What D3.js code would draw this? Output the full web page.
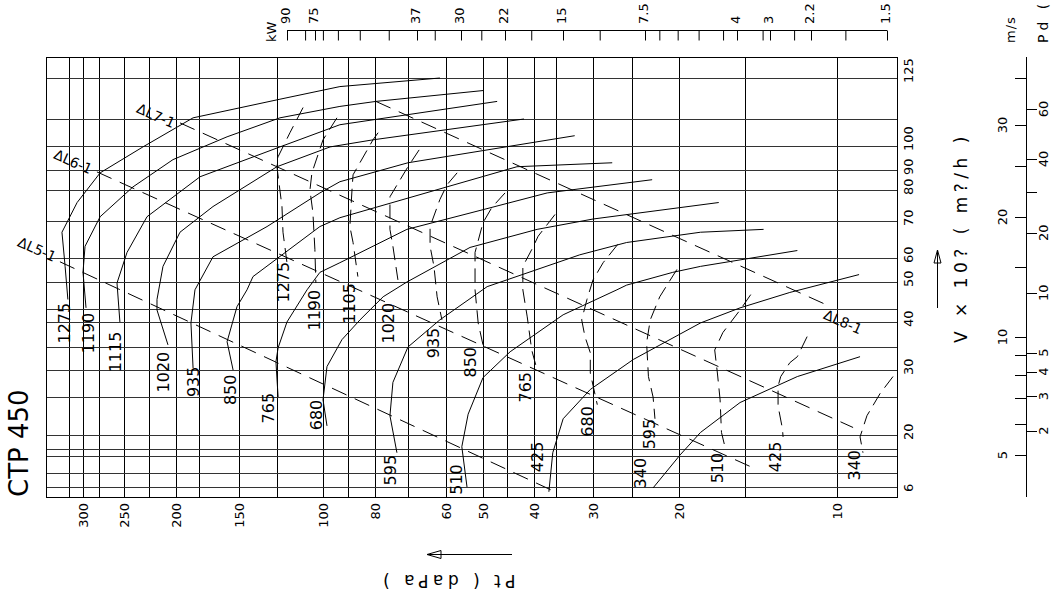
<!DOCTYPE html>
<html>
<head>
<meta charset="utf-8">
<script src="https://cdn.jsdelivr.net/npm/d3@7/dist/d3.min.js"></script>
<style>
  body { margin: 0; background: #fff; }
  text { font-family: "DejaVu Sans", sans-serif; fill: #000; }
</style>
</head>
<body>
<div id="chart"></div>
<script>
// axis values
var pressureTicks = [300, 250, 200, 150, 100, 80, 60, 50, 40, 30, 20, 10];
var pressureGrid = [320, 300, 280, 250, 225, 200, 180, 150, 125, 100, 90, 80, 70, 60, 50, 45, 40, 36, 30, 25, 20, 15, 10];
var flowTicks = [125, 100, 90, 80, 70, 60, 50, 40, 30, 20, 6];
var flowGrid = [125, 110, 100, 90, 80, 70, 60, 50, 45, 40, 35, 30, 25, 20, 16, 14, 10, 6];
var kwTicks = [90, 75, 37, 30, 22, 15, 7.5, 4, 3, 2.2, 1.5];
var kwMinor = [80, 71, 64, 55, 45, 34, 26, 18.5, 11, 6.8, 6, 5.2, 4.4, 3.2, 2.5, 1.85];
var speedTicks = [30, 20, 10, 5];
var speedMinor = [35, 25, 15, 9, 8, 7, 6];
var pdTicks = [60, 40, 20, 10, 5, 4, 3, 2];
var pdMinor = [30];

var rpms = [1275, 1190, 1115, 1020, 935, 850, 765, 680, 595, 510, 425, 340];
var powerRpms = [1275, 1190, 1105, 1020, 935, 850, 765, 680, 595, 510, 425, 340];

// fan curves, points are [Pt daPa, V x1000 m3/h]
var fan1275 = [[61.5,125],[93,121.7],[123.1,117],[185,110.4],[230.5,99.6],[278,88.5],[308,75.8],[329.6,66.8],[325,56.3],[321,46.7]];
var fan1190 = [[50,120.2],[79.7,116.2],[93,114.4],[123.1,110.4],[158.4,103.3],[202.6,94.2],[240.5,81.5],[278,71.3],[297.3,63],[300,53.8],[296,45.2]];
var fan1115 = [[47,116.2],[93,107.8],[123.1,99.6],[179.2,86.5],[226.5,71.3],[246.8,61.4],[257.9,49.8],[254.6,40]];
var fan1020 = [[41.8,110],[80.7,102.2],[97,99.6],[124.9,91.3],[168.9,74.5],[196.4,66.8],[211.5,56.3],[217,46.7],[217,44.6],[207,35.4]];
var fan935 = [[32.8,103.7],[70,92.9],[93,84],[101.5,79],[131,68.4],[168.9,60.3],[183.4,48.5],[186.8,39.8],[185,30.4]];
var fan850 = [[27.4,92.9],[43.1,91.3],[59.7,81.5],[93,71],[101.5,68.4],[140.2,52.1],[144.3,48.5],[151.4,45.4],[158.4,36],[154.1,30]];
var fan765 = [[22.7,85],[37.5,79],[50,73.5],[70.3,67.6],[93,57.9],[101.5,53.8],[108,48.5],[119,40],[124.2,34.8],[125.5,31.7],[124.2,25]];
var fan680 = [[16.8,75.8],[30,70.6],[39.4,67.6],[53.3,62.7],[70.3,50],[77.4,47.2],[85.3,40.8],[92.2,36.4],[98.3,30.7],[100,24.6],[98.3,21.1]];
var fan595 = [[13.8,67.6],[18.2,66.8],[25.6,64],[32,60.8],[49.1,49.1],[61.5,40.8],[70,35],[74.4,27.6],[75.3,22.4],[73.2,14.9]];
var fan510 = [[11.9,61.9],[18.2,56.3],[20.6,53.8],[25.6,49.4],[26.8,48.5],[34.7,42.7],[44.4,33.9],[50,28.5],[53.8,22.6],[55.5,16.6],[54.1,6]];
var fan425 = [[9.04,52.9],[12.3,48],[15.3,45.2],[18.2,39.8],[24.8,32.2],[30.4,26.3],[34.7,22],[36.5,14.9],[37.2,5.5]];
var fan340 = [[9,32.8],[11.9,28.7],[15.3,24.2],[18.2,20.3],[19.9,14.3],[22.6,5.9]];
var fanLabelAt = [[325.9,46.1],[292.7,43.5],[260.2,38],[211,33.9],[184.6,30.7],[156.3,29.1],[130.1,25.7],[103.2,24.6],[75.3,14.3],[57,11.9],[39.3,18],[24,13.5]];

// absorbed power curves (dashed)
var power1275 = [[110.1,114],[117.3,104.8],[124.2,95.4],[124.9,91.3],[121.9,74.5],[121.3,66.8],[119,57.9]];
var power1190 = [[94.2,110.4],[100,102.2],[105.5,88.5],[106.5,80],[105,72.6],[104,62.2],[103.5,49.8]];
var power1105 = [[79,104.8],[80.7,102.2],[87.9,87.5],[88.3,80],[89.1,68.4],[87.9,64],[86.1,52.1]];
var power1020 = [[66.9,98.3],[70,91.3],[75.3,77.7],[75.3,67.6],[74.4,63],[72.9,50.8]];
var power935 = [[56.8,88.5],[59.7,82.5],[61.5,76.8],[64,68.4],[64,63],[63,56.3],[62.2,47.2],[61,40.8]];
var power850 = [[45.4,79],[48.1,74.2],[50,69.5],[52,61.4],[52,48.5],[51.2,39.8],[50,35.4]];
var power765 = [[36.1,72],[39.2,65.7],[40.2,62.7],[42,56.3],[42,48.5],[41.2,41.9],[40.4,34.3],[39.4,30]];
var power680 = [[26.7,63.5],[28.6,57.9],[30,50.8],[30.9,46.7],[31.7,40.8],[31.2,37],[30.4,33.7],[30.4,29.4],[29.4,23.9]];
var power595 = [[20.2,55],[21.9,47.2],[22.9,40.8],[23.3,35.8],[23.1,28.7],[22.6,25],[22.4,22]];
var power510 = [[14.6,47.6],[15.3,44.6],[16.5,37.8],[17.1,34.3],[16.9,29.4],[16.7,24.6],[16.6,20.3],[16.35,16.6]];
var power425 = [[11.4,37],[11.9,32.8],[12.3,31.5],[12.8,28.7],[12.95,26.9],[12.95,23.7],[12.7,20.7],[12.67,19.4]];
var power340 = [[7.74,28.7],[8.21,25.6],[8.72,22.4],[9,19.4],[8.88,14.9]];
var powerLabelAt = [[121,58.3],[104,48.5],[89.4,49.8],[75.7,46.1],[63.1,38.8],[53.3,35],[41.6,29.6],[30.8,23.7],[23,22],[16.9,14.9],[13.1,18],[9.23,15.7]];

// system lines (dashed diagonals)
var systemNames = ['ΔL7-1', 'ΔL6-1', 'ΔL5-1', 'ΔL8-1'];
var systemFrom = [[196.4,108.5],[282,89],[332.6,58.3],[79.7,116.2]];
var systemTo = [[9.29,20.9],[14.2,10.7],[36.1,5.5],[10.45,45.7]];
var systemLabelAt = [[218,111.1],[313.7,93.3],[368.6,62.2],[9.73,40]];

var fans = [fan1275, fan1190, fan1115, fan1020, fan935, fan850, fan765, fan680, fan595, fan510, fan425, fan340];
var powers = [power1275, power1190, power1105, power1020, power935, power850, power765, power680, power595, power510, power425, power340];

// the printed sheet has hand ruled, non uniform axes, so the scales are piecewise log
var xScale = d3.scaleLog()
    .domain([354, 300, 250, 200, 150, 100, 80, 60, 50, 40, 30, 20, 10, 7.6])
    .range([46, 83, 124, 176, 239, 323, 375, 446, 483, 534, 593, 679, 837, 897]);

var yScale = d3.scaleLog()
    .domain([140, 125, 110, 100, 90, 80, 70, 60, 50, 45, 40, 35, 30, 25, 20, 16, 14, 10, 6, 5])
    .range([57, 78, 119, 146, 170, 190, 221, 258, 282, 309, 322, 347, 370, 397, 435, 449, 456, 473, 487, 497]);

var kwScale = d3.scaleLog()
    .domain(kwTicks)
    .range([287, 315, 417, 461, 505, 563, 645, 737, 770, 811, 887]);

var speedScale = d3.scaleLog()
    .domain([35, 30, 20, 10, 5])
    .range([78, 125, 217, 337, 455]);

// dynamic pressure daPa -> air speed m/s
function pdToSpeed(pd){
    return Math.sqrt(pd / 0.06);
}

function px(v){
    return Math.round(v) + 0.5;
}

var left = xScale.range()[0], right = xScale.range()[xScale.range().length - 1];
var top_ = yScale.range()[0], bottom = yScale.range()[yScale.range().length - 1];

var svg = d3.select('#chart')
    .append('svg')
    .attr('width', 1064)
    .attr('height', 600);

// grid
var grid = svg.append('g').attr('stroke', '#000').attr('stroke-width', 1).attr('shape-rendering', 'crispEdges');

grid.selectAll('.vgrid')
    .data(pressureGrid)
    .enter().append('line')
    .attr('class', 'vgrid')
    .attr('x1', function(d){ return px(xScale(d)) })
    .attr('x2', function(d){ return px(xScale(d)) })
    .attr('y1', top_)
    .attr('y2', bottom);

grid.selectAll('.hgrid')
    .data(flowGrid)
    .enter().append('line')
    .attr('class', 'hgrid')
    .attr('stroke', '#333')
    .attr('x1', left)
    .attr('x2', right)
    .attr('y1', function(d){ return px(yScale(d)) })
    .attr('y2', function(d){ return px(yScale(d)) });

grid.append('rect')
    .attr('x', px(left)).attr('y', px(top_))
    .attr('width', Math.round(right - left)).attr('height', Math.round(bottom - top_))
    .attr('fill', 'none');

// pressure labels under the grid
var xAxis = d3.axisBottom(xScale)
    .tickValues(pressureTicks)
    .tickSize(0)
    .tickFormat(d3.format('d'));

svg.append('g')
    .attr('transform', 'translate(0,' + (bottom + 6) + ')')
    .call(xAxis)
    .call(function(g){ g.select('.domain').remove() })
    .selectAll('text')
    .attr('font-size', 13)
    .attr('font-family', 'DejaVu Sans')
    .attr('fill', '#000')
    .attr('text-anchor', 'end')
    .attr('transform', 'rotate(-90)')
    .attr('x', 0)
    .attr('y', 0)
    .attr('dx', 0)
    .attr('dy', '0.35em');

// flow labels right of the grid
svg.selectAll('.flowlabel')
    .data(flowTicks)
    .enter().append('text')
    .attr('class', 'flowlabel')
    .attr('font-size', 13)
    .attr('text-anchor', 'start')
    .attr('dy', '0.35em')
    .attr('transform', function(d){ return 'translate(908,' + (yScale(d) + 5) + ') rotate(-90)' })
    .text(function(d){ return d });

// kW scale on top
var kwAxis = d3.axisBottom(kwScale)
    .tickValues(kwTicks.concat(kwMinor))
    .tickSize(10)
    .tickFormat('');

svg.append('g')
    .attr('transform', 'translate(0,30.5)')
    .call(kwAxis)
    .call(function(g){
        g.select('.domain').attr('d', 'M' + kwScale(90) + ',0H' + kwScale(1.5));
        g.selectAll('line').attr('stroke', '#000');
    });

svg.selectAll('.kwlabel')
    .data(kwTicks)
    .enter().append('text')
    .attr('class', 'kwlabel')
    .attr('font-size', 13)
    .attr('dy', '0.35em')
    .attr('transform', function(d){ return 'translate(' + (kwScale(d) - 2) + ',24) rotate(-90)' })
    .text(function(d){ return d });

svg.append('text')
    .attr('font-size', 13)
    .attr('dy', '0.35em')
    .attr('transform', 'translate(271,42) rotate(-90)')
    .text('kW');

// speed / dynamic pressure scale on the right
var sx = 1026;
var sp = svg.append('g').attr('stroke', '#000').attr('shape-rendering', 'crispEdges');
sp.append('line').attr('x1', sx + 0.5).attr('x2', sx + 0.5).attr('y1', top_).attr('y2', bottom);
sp.selectAll('.stick')
    .data(speedTicks.concat(speedMinor))
    .enter().append('line')
    .attr('x1', sx - 11).attr('x2', sx)
    .attr('y1', function(d){ return px(speedScale(d)) })
    .attr('y2', function(d){ return px(speedScale(d)) });
sp.selectAll('.ptick')
    .data(pdTicks.concat(pdMinor))
    .enter().append('line')
    .attr('x1', sx).attr('x2', sx + 11)
    .attr('y1', function(d){ return px(speedScale(pdToSpeed(d))) })
    .attr('y2', function(d){ return px(speedScale(pdToSpeed(d))) });

svg.selectAll('.slabel')
    .data(speedTicks)
    .enter().append('text')
    .attr('font-size', 13)
    .attr('text-anchor', 'middle')
    .attr('dy', '0.35em')
    .attr('transform', function(d){ return 'translate(1002,' + speedScale(d) + ') rotate(-90)' })
    .text(function(d){ return d });

svg.selectAll('.plabel')
    .data(pdTicks)
    .enter().append('text')
    .attr('font-size', 13)
    .attr('text-anchor', 'middle')
    .attr('dy', '0.35em')
    .attr('transform', function(d){ return 'translate(1043,' + speedScale(pdToSpeed(d)) + ') rotate(-90)' })
    .text(function(d){ return d });

svg.append('text').attr('font-size', 13).attr('letter-spacing', 1).attr('dy', '0.35em')
    .attr('transform', 'translate(1010,43) rotate(-90)').text('m/s');
svg.append('text').attr('font-size', 14).attr('letter-spacing', 4).attr('dy', '0.35em')
    .attr('transform', 'translate(1043,43) rotate(-90)').text('Pd ( daPa )');

// curves
var line = d3.line()
    .x(function(d){ return xScale(d[0]) })
    .y(function(d){ return yScale(d[1]) });

var fanTable = fans.map(function(pts, i){ return {rpm: rpms[i], pts: pts, at: fanLabelAt[i]} });
var powerTable = powers.map(function(pts, i){ return {rpm: powerRpms[i], pts: pts, at: powerLabelAt[i]} });
var systemTable = systemNames.map(function(n, i){ return {name: n, pts: [systemFrom[i], systemTo[i]], at: systemLabelAt[i]} });

svg.selectAll('.fan')
    .data(fanTable)
    .enter().append('path')
    .attr('class', 'fan')
    .attr('d', function(d){ return line(d.pts) })
    .attr('fill', 'none')
    .attr('stroke', '#000')
    .attr('stroke-width', 1);

svg.selectAll('.power')
    .data(powerTable)
    .enter().append('path')
    .attr('class', 'power')
    .attr('d', function(d){ return line(d.pts) })
    .attr('fill', 'none')
    .attr('stroke', '#000')
    .attr('stroke-width', 1)
    .attr('stroke-dasharray', '14,7');

svg.selectAll('.system')
    .data(systemTable)
    .enter().append('path')
    .attr('class', 'system')
    .attr('d', function(d){ return line(d.pts) })
    .attr('fill', 'none')
    .attr('stroke', '#000')
    .attr('stroke-width', 1)
    .attr('stroke-dasharray', '16,9');

function rpmLabels(cls, table){
    svg.selectAll('.' + cls)
        .data(table)
        .enter().append('text')
        .attr('class', cls)
        .attr('font-size', 16)
        .attr('text-anchor', 'end')
        .attr('dy', '0.35em')
        .attr('transform', function(d){
            return 'translate(' + xScale(d.at[0]) + ',' + yScale(d.at[1]) + ') rotate(-90)'
        })
        .text(function(d){ return d.rpm });
}
rpmLabels('fanlabel', fanTable);
rpmLabels('powerlabel', powerTable);

svg.selectAll('.syslabel')
    .data(systemTable)
    .enter().append('text')
    .attr('font-size', 14)
    .attr('text-anchor', 'middle')
    .attr('dy', '0.35em')
    .attr('transform', function(d){
        return 'translate(' + xScale(d.at[0]) + ',' + yScale(d.at[1]) + ') rotate(24)'
    })
    .text(function(d){ return d.name });

// titles and arrows
svg.append('text')
    .attr('font-size', 26)
    .attr('dy', '0.35em')
    .attr('transform', 'translate(19,' + bottom + ') rotate(-90)')
    .text('CTP 450');

svg.append('text')
    .attr('font-size', 17)
    .attr('letter-spacing', 4.5)
    .attr('dy', '0.35em')
    .attr('transform', 'translate(961,343) rotate(-90)')
    .text('V × 10? ( m?/h )');

svg.append('text')
    .attr('font-size', 17)
    .attr('letter-spacing', 4.5)
    .attr('text-anchor', 'middle')
    .attr('transform', 'translate(447,575) rotate(180)')
    .text('Pt ( daPa )');

var arrows = svg.append('g').attr('fill', 'none').attr('stroke', '#000');
arrows.append('path').attr('d', 'M937.5,308V250M937.5,250L934,263L941,263Z');
arrows.append('path').attr('d', 'M427,554.5H512M427,554.5L441,550.5L441,558.5Z');
</script>
</body>
</html>
